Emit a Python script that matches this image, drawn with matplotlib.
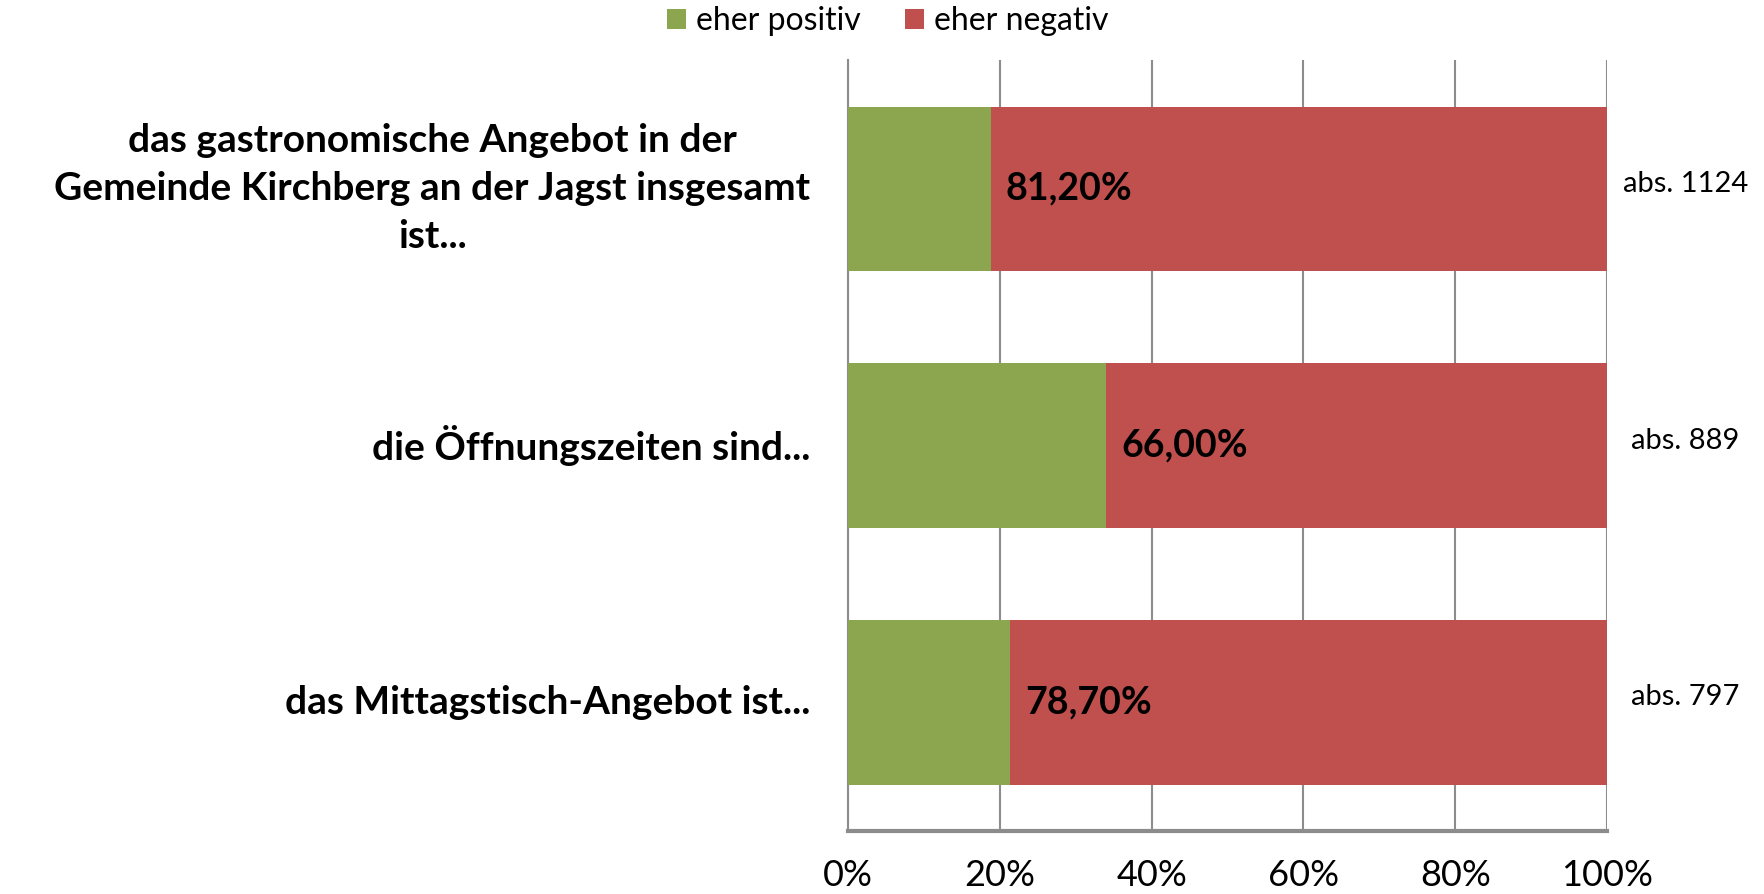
import matplotlib
matplotlib.use("Agg")
import matplotlib.pyplot as plt
import matplotlib.transforms as mtransforms

plt.rcParams['font.family'] = ['Lato', 'DejaVu Sans']

categories = [
    "das gastronomische Angebot in der\nGemeinde Kirchberg an der Jagst insgesamt\nist...",
    "die Öffnungszeiten sind...",
    "das Mittagstisch-Angebot ist...",
]
positive = [18.8, 34.0, 21.3]
negative = [81.2, 66.0, 78.7]
neg_labels = ["81,20%", "66,00%", "78,70%"]
abs_labels = ["abs. 1124", "abs. 889", "abs. 797"]
xticks = [0, 20, 40, 60, 80, 100]
xticklabels = ["0%", "20%", "40%", "60%", "80%", "100%"]
series_names = ["eher positiv", "eher negativ"]

green = "#8BA64E"
red = "#C0504D"
gridc = "#8C8C8C"

fig = plt.figure(figsize=(17.65, 8.94), dpi=100)
ax = fig.add_axes([0.4805, 0.0705, 0.430, 0.862])

y = list(range(len(categories)))
ax.barh(y, positive, height=0.64, color=green, label=series_names[0], zorder=3)
ax.barh(y, negative, left=positive, height=0.64, color=red, label=series_names[1], zorder=3)

ax.set_xlim(0, 100)
ax.set_ylim(2.5, -0.5)
ax.set_xticks(xticks)
ax.set_xticklabels(xticklabels, fontsize=26, color='black')
ax.set_yticks(y)
ax.set_yticklabels(categories, fontsize=28, fontweight='bold', color='black',
                   multialignment='center', linespacing=1.45)
for lbl in ax.get_yticklabels():
    lbl.set_verticalalignment('center')
ax.tick_params(axis='both', length=0)
ax.tick_params(axis='y', pad=27)
ax.tick_params(axis='x', pad=20)

ax.grid(axis='x', color=gridc, linewidth=1.5, zorder=0)
for s in ['top', 'right']:
    ax.spines[s].set_visible(False)
ax.spines['left'].set_color(gridc)
ax.spines['left'].set_linewidth(1.5)
ax.spines['bottom'].set_color(gridc)
ax.spines['bottom'].set_linewidth(3)

for i in y:
    ax.text(positive[i] + 2.0, i, neg_labels[i], fontsize=27, fontweight='bold',
            color='black', ha='left', va='center', zorder=4)

trans = mtransforms.blended_transform_factory(ax.transAxes, ax.transData)
for i in y:
    ax.text(1.103, i - 0.02, abs_labels[i], fontsize=21, color='black',
            ha='center', va='center', transform=trans)

leg = fig.legend(loc='center', bbox_to_anchor=(0.503, 0.976), ncol=2, frameon=False,
                 fontsize=23, handlelength=0.6, handleheight=0.6, handletextpad=0.3,
                 columnspacing=1.4, borderpad=0.1)

fig.savefig("out.png", dpi=100)
